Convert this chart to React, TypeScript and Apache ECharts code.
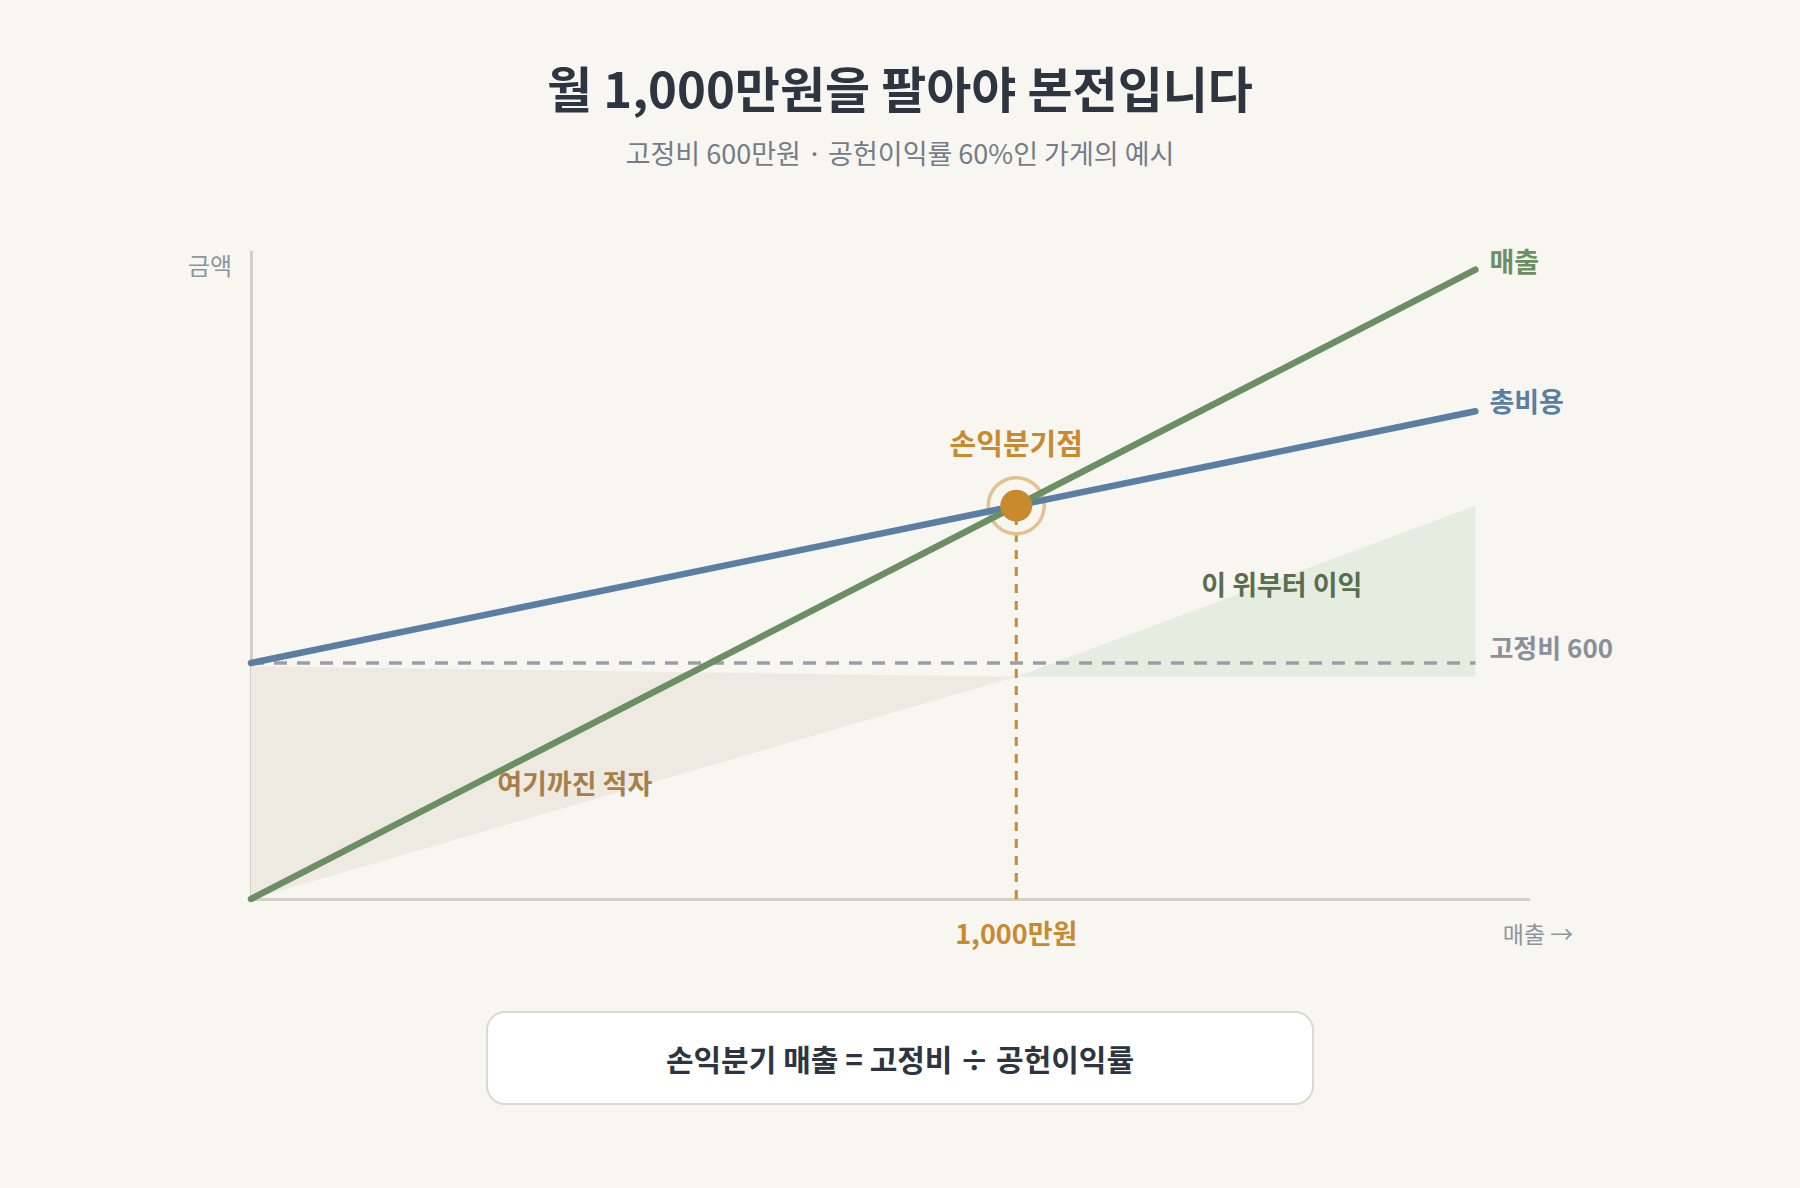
import React, { useEffect, useRef } from "react";
import * as echarts from "echarts";

// ---- data (만원) ----
const salesPoints = [0, 1600];
const revenueValues = [0, 1600];
const totalCostValues = [600, 1240];
const fixedCostValues = [600, 600];
const breakEvenPoint = [1000, 1000];
const lossAreaX = [0, 0, 1000];
const lossAreaY = [0, 592, 565];
const profitAreaX = [1000, 1600, 1600];
const profitAreaY = [565, 1000, 565];
const xTickValues = [1000];
const xTickLabels = ["1,000만원"];

const FONT = '"Noto Sans CJK KR", "Noto Sans", sans-serif';
const BG = "#f7f6f1";

export default function App() {
  const ref = useRef<HTMLDivElement>(null);

  useEffect(() => {
    document.body.style.margin = "0";
    document.body.style.background = BG;
    if (!ref.current) return;
    const chart = echarts.init(ref.current, undefined, { renderer: "svg" });

    const polygonSeries = (xs: number[], ys: number[], fill: string, z: number) => ({
      type: "custom",
      silent: true,
      z,
      data: [[0, 0]],
      renderItem: (_params: any, api: any) => ({
        type: "polygon",
        shape: { points: xs.map((x, i) => api.coord([x, ys[i]])) },
        style: { fill },
      }),
    });

    const option: any = {
      animation: false,
      backgroundColor: BG,
      textStyle: { fontFamily: FONT },
      grid: { left: 251, top: 252, width: 1278, height: 647 },
      xAxis: {
        type: "value",
        min: 0,
        max: 1670,
        axisLine: { show: true, lineStyle: { color: "#d2cfc5", width: 3 } },
        axisTick: { show: false },
        splitLine: { show: false },
        axisLabel: {
          show: true,
          customValues: xTickValues,
          formatter: (v: number) => xTickLabels[xTickValues.indexOf(v)] ?? "",
          color: "#c98a2e",
          fontSize: 27,
          fontWeight: "bold",
          fontFamily: FONT,
          margin: 20,
        },
      },
      yAxis: {
        type: "value",
        min: 0,
        max: 1645,
        axisLine: { show: true, lineStyle: { color: "#d2cfc5", width: 3 } },
        axisTick: { show: false },
        splitLine: { show: false },
        axisLabel: { show: false },
      },
      series: [
        polygonSeries(lossAreaX, lossAreaY, "#efeae1", 1),
        polygonSeries(profitAreaX, profitAreaY, "#e5ede0", 1),
        {
          type: "line",
          name: "고정비",
          z: 2,
          symbol: "none",
          silent: true,
          data: salesPoints.map((x, i) => [x, fixedCostValues[i]]),
          lineStyle: { color: "#9a9ea6", width: 3.5, type: [13, 10] },
          endLabel: {
            show: true,
            formatter: "고정비 600",
            color: "#8a9099",
            fontSize: 26,
            fontWeight: "bold",
            fontFamily: FONT,
            distance: 14,
            offset: [0, -17],
          },
        },
        {
          type: "line",
          name: "손익분기선",
          z: 2,
          symbol: "none",
          silent: true,
          data: [
            [breakEvenPoint[0], 0],
            [breakEvenPoint[0], breakEvenPoint[1]],
          ],
          lineStyle: { color: "#cc8a2e", width: 3, type: [9, 8] },
        },
        {
          type: "scatter",
          name: "ring",
          z: 3,
          silent: true,
          symbolSize: 56,
          data: [breakEvenPoint],
          itemStyle: { color: "rgba(0,0,0,0)", borderColor: "#e2c291", borderWidth: 3.5, opacity: 1 },
        },
        {
          type: "line",
          name: "총비용",
          z: 4,
          symbol: "none",
          silent: true,
          data: salesPoints.map((x, i) => [x, totalCostValues[i]]),
          lineStyle: { color: "#5b7ea3", width: 6.5, cap: "round" },
          endLabel: {
            show: true,
            formatter: "총비용",
            color: "#5b7ea3",
            fontSize: 27,
            fontWeight: "bold",
            fontFamily: FONT,
            distance: 14,
            offset: [0, -11],
          },
        },
        {
          type: "line",
          name: "매출",
          z: 5,
          symbol: "none",
          silent: true,
          data: salesPoints.map((x, i) => [x, revenueValues[i]]),
          lineStyle: { color: "#6b8f63", width: 6.5, cap: "round" },
          endLabel: {
            show: true,
            formatter: "매출",
            color: "#6b8f63",
            fontSize: 27,
            fontWeight: "bold",
            fontFamily: FONT,
            distance: 14,
            offset: [0, -9],
          },
        },
        {
          type: "scatter",
          name: "손익분기점",
          z: 6,
          silent: true,
          symbolSize: 32,
          data: [breakEvenPoint],
          itemStyle: { color: "#c98a2e", opacity: 1 },
        },
        {
          type: "scatter",
          name: "annotations",
          z: 7,
          silent: true,
          symbolSize: 1,
          itemStyle: { color: "rgba(0,0,0,0)", opacity: 1 },
          label: {
            show: true,
            position: "inside",
            fontFamily: FONT,
            fontWeight: "bold",
            formatter: (p: any) => p.data.name,
          },
          data: [
            { name: "손익분기점", value: [1000, 1162], label: { color: "#c98a2e", fontSize: 29 } },
            { name: "이 위부터 이익", value: [1347, 801], label: { color: "#5a6e4f", fontSize: 27 } },
            { name: "여기까진 적자", value: [423, 297], label: { color: "#a67f4a", fontSize: 27 } },
          ],
        },
      ],
      graphic: [
        {
          type: "text",
          x: 900,
          y: 86,
          style: {
            text: "월 1,000만원을 팔아야 본전입니다",
            fontFamily: FONT,
            fontSize: 49,
            fontWeight: "bold",
            fill: "#2d3540",
            align: "center",
            verticalAlign: "middle",
          },
        },
        {
          type: "text",
          x: 900,
          y: 152,
          style: {
            text: "고정비 600만원 · 공헌이익률 60%인 가게의 예시",
            fontFamily: FONT,
            fontSize: 27,
            fill: "#747c86",
            align: "center",
            verticalAlign: "middle",
          },
        },
        {
          type: "text",
          x: 210,
          y: 264,
          style: {
            text: "금액",
            fontFamily: FONT,
            fontSize: 24,
            fill: "#8f959c",
            align: "center",
            verticalAlign: "middle",
          },
        },
        {
          type: "text",
          x: 1538,
          y: 933,
          style: {
            text: "매출 →",
            fontFamily: FONT,
            fontSize: 23,
            fill: "#8f959c",
            align: "center",
            verticalAlign: "middle",
          },
        },
        {
          type: "rect",
          shape: { x: 487, y: 1012, width: 826, height: 92, r: 18 },
          style: { fill: "#ffffff", stroke: "#dcd8cc", lineWidth: 2 },
        },
        {
          type: "text",
          x: 900,
          y: 1058,
          style: {
            text: "손익분기 매출 = 고정비 ÷ 공헌이익률",
            fontFamily: FONT,
            fontSize: 30,
            fontWeight: "bold",
            fill: "#2d3540",
            align: "center",
            verticalAlign: "middle",
          },
        },
      ],
    };

    chart.setOption(option);
    return () => chart.dispose();
  }, []);

  return <div ref={ref} style={{ width: 1800, height: 1188, background: BG }} />;
}
